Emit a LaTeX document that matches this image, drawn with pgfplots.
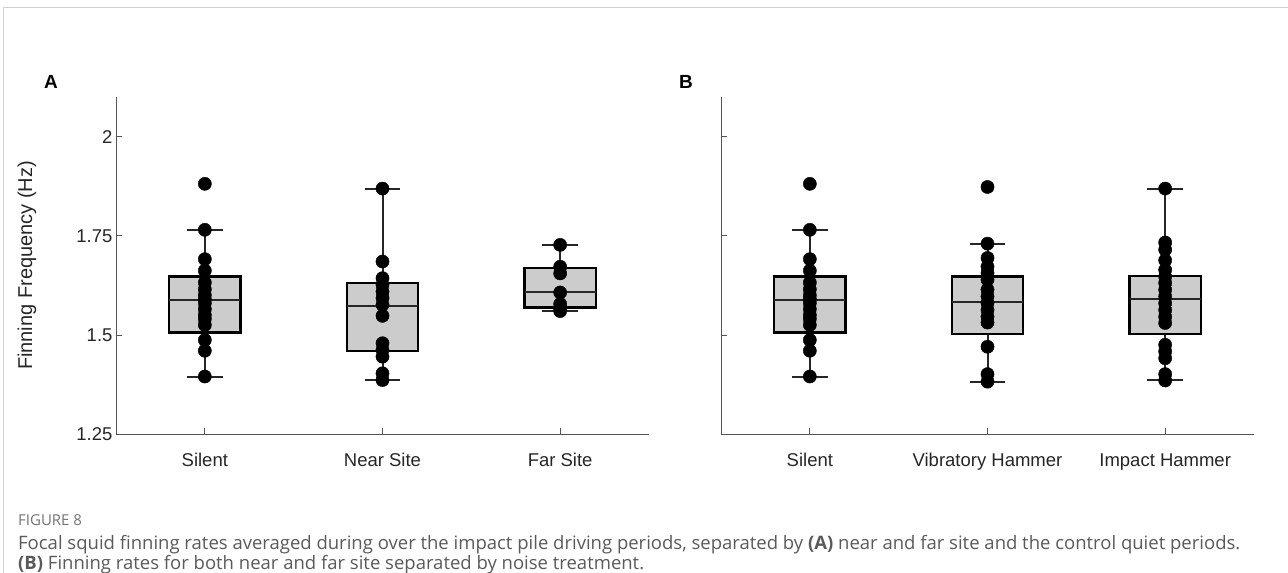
\documentclass[border=0pt]{standalone}
\usepackage{pgfplots}
\pgfplotsset{compat=1.18}
\usepgfplotslibrary{statistics}
\usepackage{fontspec}
\setmainfont{Liberation Sans}
\newfontfamily\capfont{Open Sans}
\definecolor{boxfill}{HTML}{CCCCCC}
\definecolor{axgray}{HTML}{555555}
\definecolor{capgray}{HTML}{5A5A5A}
\pgfplotsset{
  panel/.style={
    scale only axis, width=533pt, height=337pt,
    xmin=0.5, xmax=3.5, ymin=1.25, ymax=2.1,
    axis x line=bottom, axis y line=left,
    axis line style={-, draw=axgray, line width=0.9pt},
    xtick={1,2,3}, ytick={1.25,1.5,1.75,2},
    tick align=inside, major tick length=6pt,
    tick style={draw=axgray, line width=0.7pt},
    tick label style={font=\fontsize{18.5}{22}\selectfont, text=black!85},
    xticklabel style={yshift=-16pt},
    clip=false,
  },
  bx/.style={
    boxplot/draw direction=y,
    boxplot/every box/.style={draw=black, line width=2.3pt, fill=boxfill},
    boxplot/every whisker/.style={draw=black!85, line width=2pt},
    boxplot/every median/.style={draw=black!85, line width=2pt},
  },
  dots/.style={only marks, mark=*, mark size=6.6pt, mark options={fill=black, draw=black}},
}
\begin{document}
\begin{tikzpicture}
\path[use as bounding box] (0pt,0pt) rectangle (1288pt,573pt);
\draw[black!18, line width=1.6pt] (3.5pt,0pt) -- (3.5pt,565.5pt) -- (1288pt,565.5pt);

\begin{axis}[panel, at={(116pt,139pt)}, anchor=south west,
  xticklabels={Silent, Near Site, Far Site},
  yticklabels={1.25, 1.5, 1.75, 2},
  ylabel={Finning Frequency (Hz)},
  ylabel style={font=\fontsize{20}{24}\selectfont, text=black!85, at={(axis description cs:-0.167,0.5)}, anchor=center},
  bx]
\addplot[boxplot prepared={draw position=1, lower whisker=1.394, lower quartile=1.506, median=1.588, upper quartile=1.647, upper whisker=1.765, box extend=0.4, whisker extend=0.2}] coordinates {};
\addplot[boxplot prepared={draw position=2, lower whisker=1.386, lower quartile=1.460, median=1.574, upper quartile=1.630, upper whisker=1.869, box extend=0.4, whisker extend=0.2}] coordinates {};
\addplot[boxplot prepared={draw position=3, lower whisker=1.559, lower quartile=1.569, median=1.607, upper quartile=1.668, upper whisker=1.727, box extend=0.4, whisker extend=0.2}] coordinates {};
\addplot[dots] coordinates {
 (1,1.881) (1,1.765) (1,1.691) (1,1.662) (1,1.632) (1,1.615) (1,1.600) (1,1.590)
 (1,1.580) (1,1.565) (1,1.550) (1,1.540) (1,1.525) (1,1.487) (1,1.460) (1,1.395)};
\addplot[dots] coordinates {
 (2,1.869) (2,1.685) (2,1.643) (2,1.626) (2,1.609) (2,1.593) (2,1.576) (2,1.548)
 (2,1.479) (2,1.462) (2,1.445) (2,1.403) (2,1.386)};
\addplot[dots] coordinates {
 (3,1.727) (3,1.672) (3,1.655) (3,1.607) (3,1.578) (3,1.567) (3,1.560)};
\end{axis}

\begin{axis}[panel, at={(721pt,139pt)}, anchor=south west,
  xticklabels={Silent, Vibratory Hammer, Impact Hammer},
  yticklabels={},
  bx]
\addplot[boxplot prepared={draw position=1, lower whisker=1.394, lower quartile=1.506, median=1.588, upper quartile=1.647, upper whisker=1.765, box extend=0.4, whisker extend=0.2}] coordinates {};
\addplot[boxplot prepared={draw position=2, lower whisker=1.382, lower quartile=1.502, median=1.584, upper quartile=1.647, upper whisker=1.730, box extend=0.4, whisker extend=0.2}] coordinates {};
\addplot[boxplot prepared={draw position=3, lower whisker=1.385, lower quartile=1.502, median=1.590, upper quartile=1.649, upper whisker=1.869, box extend=0.4, whisker extend=0.2}] coordinates {};
\addplot[dots] coordinates {
 (1,1.881) (1,1.765) (1,1.691) (1,1.662) (1,1.632) (1,1.615) (1,1.600) (1,1.590)
 (1,1.580) (1,1.565) (1,1.550) (1,1.540) (1,1.525) (1,1.487) (1,1.460) (1,1.395)};
\addplot[dots] coordinates {
 (2,1.873) (2,1.730) (2,1.694) (2,1.672) (2,1.656) (2,1.639) (2,1.614) (2,1.597)
 (2,1.580) (2,1.563) (2,1.546) (2,1.531) (2,1.470) (2,1.401) (2,1.382)};
\addplot[dots] coordinates {
 (3,1.869) (3,1.733) (3,1.715) (3,1.688) (3,1.664) (3,1.647) (3,1.631) (3,1.614) (3,1.597)
 (3,1.580) (3,1.563) (3,1.546) (3,1.530) (3,1.475) (3,1.458) (3,1.441) (3,1.401) (3,1.385)};
\end{axis}

\node[font=\bfseries\fontsize{19}{22}\selectfont] at (51pt,491pt) {A};
\node[font=\bfseries\fontsize{19}{22}\selectfont] at (686pt,491pt) {B};

\node[anchor=west, inner sep=0pt, font=\capfont\fontsize{15}{18}\selectfont, text=black!55] at (18pt,53pt) {FIGURE 8};
\node[anchor=west, inner sep=0pt, font=\capfont\fontsize{18.5}{22}\selectfont, text=capgray] at (18pt,28pt) {Focal squid finning rates averaged during over the impact pile driving periods, separated by \textbf{(A)} near and far site and the control quiet periods.};
\node[anchor=west, inner sep=0pt, font=\capfont\fontsize{18.5}{22}\selectfont, text=capgray] at (18pt,8pt) {\textbf{(B)} Finning rates for both near and far site separated by noise treatment.};
\end{tikzpicture}
\end{document}
